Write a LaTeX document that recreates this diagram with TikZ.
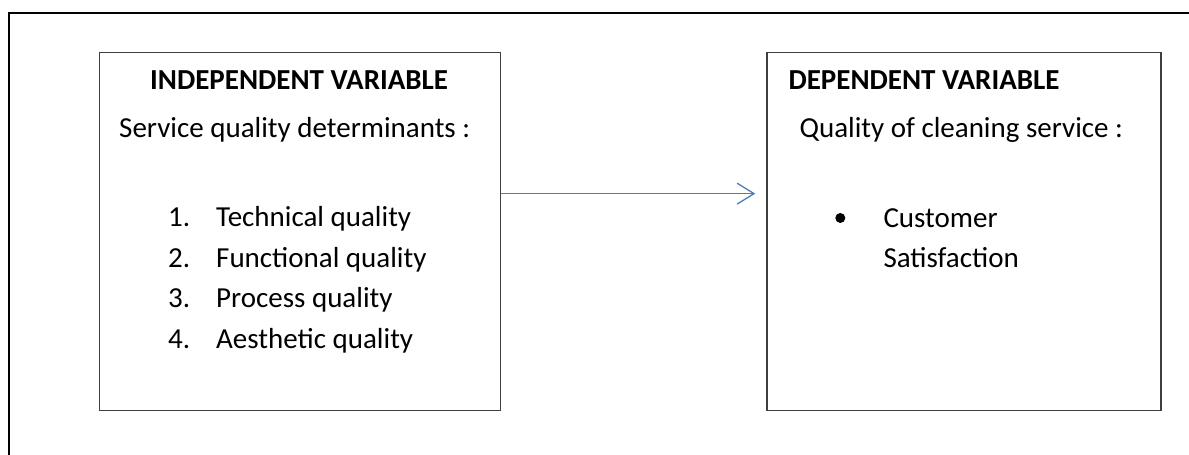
\documentclass[tikz,border=0pt]{standalone}
\usepackage{fontspec}
\setmainfont{Carlito}
\usetikzlibrary{positioning, arrows.meta}
\definecolor{my_arrowblue}{RGB}{74, 126, 187}
\definecolor{my_darkgray}{RGB}{64, 64, 64}
\tikzset {
  outerframe/.style = {draw, line width=2pt, color=black},
  varbox/.style = {draw=my_darkgray, line width=1.3pt, rectangle, minimum width=401pt, minimum height=358pt, anchor=north west},
  heading/.style = {font=\fontsize{29pt}{40pt}\selectfont\bfseries, inner sep=0pt, anchor=base west},
  item/.style = {font=\fontsize{29pt}{40pt}\selectfont, inner sep=0pt, anchor=base west},
  bulletdot/.style = {circle, fill=black, inner sep=0pt, minimum size=10pt},
  line/.style = {-{Straight Barb[length=17pt, width=21pt]}, line width=1.3pt, color=my_arrowblue},
}

\begin{document}
\begin{tikzpicture}[x=1pt, y=1pt]
    \useasboundingbox (0,0) rectangle (1189,455);
    \draw[outerframe] (9,0) -- (9,442) -- (1189,442);

    \node[varbox] (indep) at (99,403) {};
    \node[varbox, minimum width=394pt, right=265pt of indep] (dep) {};

    % independent side
    \node[heading] (indeptitle) at ([xshift=51pt, yshift=-38pt]indep.north west) {INDEPENDENT VARIABLE};
    \node[item] (indepintro) at ([xshift=20pt, yshift=-85.5pt]indep.north west) {Service quality determinants :};
    \node[item] (n1) at ([xshift=69pt, yshift=-175pt]indep.north west) {1.};
    \node[item] (n2) at ([yshift=-40.5pt]n1.base west) {2.};
    \node[item] (n3) at ([yshift=-40.5pt]n2.base west) {3.};
    \node[item] (n4) at ([yshift=-40.5pt]n3.base west) {4.};
    \node[item] (q1) at ([xshift=48pt]n1.base west) {Technical quality};
    \node[item] (q2) at ([xshift=48pt]n2.base west) {Functional quality};
    \node[item] (q3) at ([xshift=48pt]n3.base west) {Process quality};
    \node[item] (q4) at ([xshift=48pt]n4.base west) {Aesthetic quality};

    % dependent side
    \node[heading] (deptitle) at ([xshift=22pt, yshift=-38pt]dep.north west) {DEPENDENT VARIABLE};
    \node[item] (depintro) at ([xshift=33pt, yshift=-85.5pt]dep.north west) {Quality of cleaning service :};
    \node[bulletdot] (dot) at ([xshift=74pt, yshift=-166pt]dep.north west) {};
    \node[item] (cust) at ([xshift=117pt, yshift=-176pt]dep.north west) {Customer};
    \node[item] (satis) at ([yshift=-40pt]cust.base west) {Satisfaction};

    \draw[line] ([yshift=38pt]indep.east) -- ([xshift=-11pt, yshift=38pt]dep.west);

\end{tikzpicture}
\end{document}
